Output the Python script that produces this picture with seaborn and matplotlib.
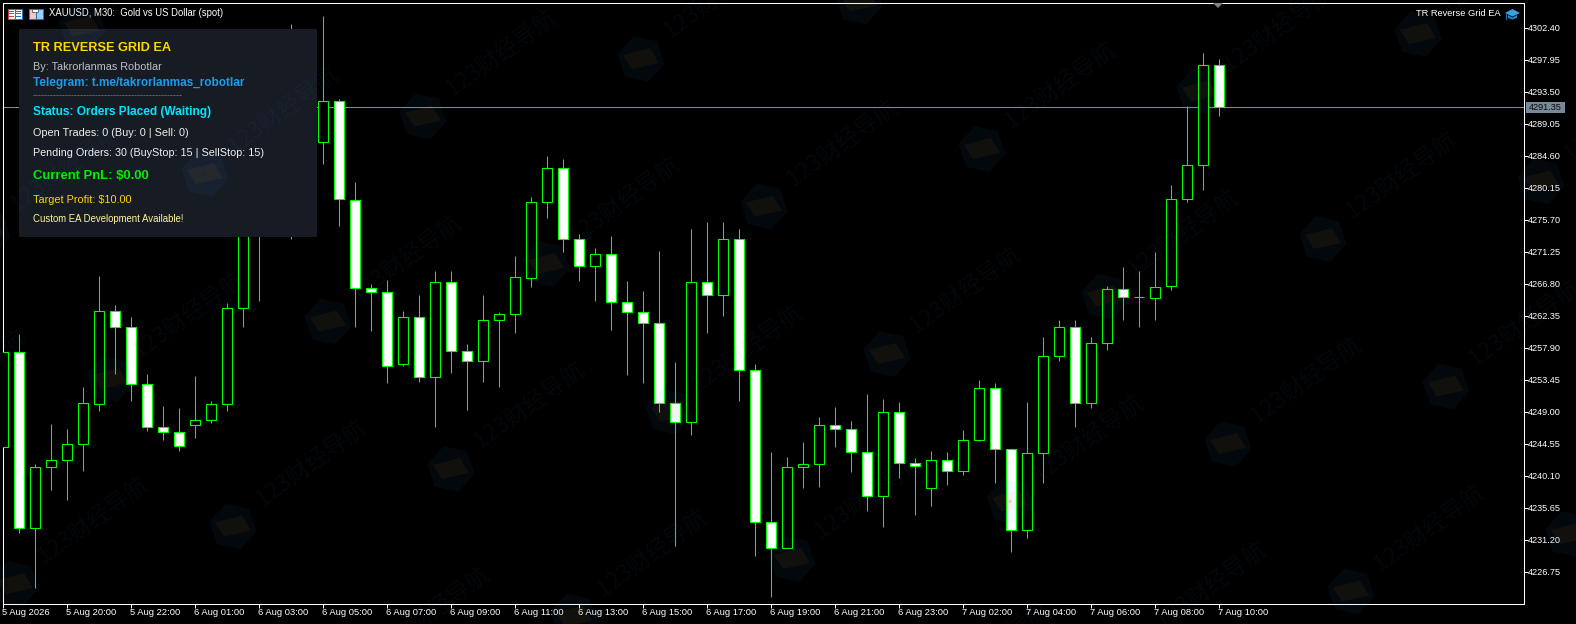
import numpy as np
import pandas as pd
import seaborn as sns
import matplotlib
matplotlib.use("Agg")
import matplotlib.pyplot as plt
from matplotlib.patches import Rectangle, Polygon, Circle
from matplotlib.transforms import Affine2D

# ---------- data (M30 OHLC) ----------
opens = [4244.14,4257.35,4232.87,4241.30,4242.33,4244.55,4250.12,4263.05,4260.83,4252.90,
         4246.92,4246.22,4247.20,4247.89,4250.12,4263.41,4279.78,4288.12,4282.56,4297.86,
         4286.55,4292.25,4278.49,4266.25,4265.69,4255.68,4262.22,4253.87,4267.03,4257.49,
         4256.10,4261.80,4262.63,4267.64,4278.21,4282.94,4273.06,4269.31,4270.98,4264.30,
         4262.91,4261.38,4250.26,4247.61,4267.08,4265.28,4273.06,4254.85,4233.71,4230.09,
         4241.36,4241.77,4247.20,4246.64,4243.44,4237.32,4249.00,4241.91,4238.44,4242.33,
         4240.80,4245.11,4252.34,4243.86,4232.60,4243.30,4256.79,4260.83,4250.26,4258.60,
         4266.11,4264.94,4264.86,4266.53,4278.62,4283.35,4297.26]
highs = [4258.92,4259.75,4241.68,4247.24,4246.54,4252.38,4267.82,4263.79,4262.12,4254.19,
         4249.74,4249.46,4253.91,4250.44,4264.16,4281.86,4290.21,4290.90,4302.86,4299.94,
         4304.11,4292.43,4280.89,4266.80,4267.26,4262.99,4265.18,4268.52,4268.52,4258.36,
         4265.18,4262.81,4270.60,4278.81,4284.51,4284.09,4273.66,4271.71,4273.38,4267.12,
         4265.73,4271.30,4255.86,4274.36,4275.33,4275.33,4274.36,4255.58,4243.35,4242.65,
         4244.74,4248.21,4249.60,4247.66,4251.41,4250.72,4250.30,4242.51,4243.49,4243.35,
         4246.40,4253.36,4252.94,4243.86,4250.30,4259.34,4261.70,4261.70,4259.34,4266.43,
         4269.07,4268.52,4271.16,4280.47,4291.46,4298.83,4298.00]
lows = [4242.93,4232.12,4224.47,4238.06,4236.67,4240.75,4249.09,4254.23,4250.48,4246.31,
        4245.06,4243.53,4245.33,4247.42,4249.09,4260.77,4264.39,4280.47,4273.06,4278.39,
        4283.44,4274.81,4260.77,4260.21,4252.98,4255.35,4253.12,4246.86,4254.37,4249.23,
        4253.12,4252.43,4259.93,4266.33,4275.93,4271.20,4267.17,4264.39,4260.31,4254.09,
        4252.98,4248.95,4230.31,4245.75,4259.93,4262.30,4250.48,4228.92,4223.22,4230.09,
        4238.38,4238.52,4244.04,4240.60,4235.18,4232.96,4239.77,4234.63,4235.88,4238.80,
        4240.19,4244.92,4239.08,4229.48,4231.43,4239.08,4256.04,4246.86,4249.51,4257.53,
        4261.70,4260.73,4261.70,4265.91,4278.15,4279.82,4290.14]
closes = [4257.35,4232.87,4241.36,4242.33,4244.55,4250.26,4263.05,4260.83,4252.90,4246.92,
          4246.22,4244.28,4247.89,4250.12,4263.41,4279.78,4288.12,4282.56,4297.86,4286.55,
          4292.25,4278.62,4266.25,4265.69,4255.40,4262.22,4253.87,4267.03,4257.49,4256.10,
          4261.80,4262.63,4267.78,4278.21,4282.94,4273.06,4269.31,4270.98,4264.30,4262.91,
          4261.38,4250.26,4247.61,4267.08,4265.28,4273.06,4254.85,4233.71,4230.09,4241.36,
          4241.77,4247.20,4246.64,4243.44,4237.32,4249.00,4241.91,4241.50,4242.33,4240.80,
          4245.11,4252.34,4243.86,4232.60,4243.30,4256.79,4260.83,4250.26,4258.60,4266.11,
          4264.94,4264.94,4266.39,4278.62,4283.35,4297.26,4291.35]
bid_price = 4291.35
price_ticks = [4302.40,4297.95,4293.50,4289.05,4284.60,4280.15,4275.70,4271.25,4266.80,
               4262.35,4257.90,4253.45,4249.00,4244.55,4240.10,4235.65,4231.20,4226.75]
time_labels = ["5 Aug 2026","5 Aug 20:00","5 Aug 22:00","6 Aug 01:00","6 Aug 03:00","6 Aug 05:00",
               "6 Aug 07:00","6 Aug 09:00","6 Aug 11:00","6 Aug 13:00","6 Aug 15:00","6 Aug 17:00",
               "6 Aug 19:00","6 Aug 21:00","6 Aug 23:00","7 Aug 02:00","7 Aug 04:00","7 Aug 06:00",
               "7 Aug 08:00","7 Aug 10:00"]
panel_lines = [
    ("TR REVERSE GRID EA", 48.0, "#FFD700", "bold", 9.2),
    ("By: Takrorlanmas Robotlar", 67.3, "#C0C0C0", "normal", 7.8),
    ("Telegram: t.me/takrorlanmas_robotlar", 83.0, "#1E9BE8", "bold", 8.5),
    ("-" * 50, 96.0, "#808080", "normal", 6.5),
    ("Status: Orders Placed (Waiting)", 111.7, "#00E5FF", "bold", 8.6),
    ("Open Trades: 0 (Buy: 0 | Sell: 0)", 133.0, "#F0F0F0", "normal", 7.8),
    ("Pending Orders: 30 (BuyStop: 15 | SellStop: 15)", 153.0, "#F0F0F0", "normal", 7.75),
    ("Current PnL: $0.00", 176.0, "#00F000", "bold", 9.35),
    ("Target Profit: $10.00", 200.0, "#FFD700", "normal", 7.8),
    ("Custom EA Development Available!", 218.7, "#FFF59D", "normal", 6.9),
]
GREEN = "#00FF00"
W, H = 1576, 624

sns.set_theme(style="dark", rc={"figure.facecolor": "black", "axes.facecolor": "black",
                                "savefig.facecolor": "black"})
plt.rcParams["font.family"] = ["Liberation Sans", "DejaVu Sans"]

fig = plt.figure(figsize=(W / 100, H / 100), dpi=100)
AL, AR, AT, AB = 2.5, 1523.5, 2.5, 603.5
ax = fig.add_axes([AL / W, 1 - AB / H, (AR - AL) / W, (AB - AT) / H])

df = pd.DataFrame({"k": np.arange(len(opens)), "o": opens, "h": highs, "l": lows, "c": closes})
df["bottom"] = df[["o", "c"]].min(axis=1)
df["height"] = (df["o"] - df["c"]).abs()

# wicks
wicks = df.melt(id_vars="k", value_vars=["l", "h"], value_name="price")
sns.lineplot(data=wicks, x="k", y="price", units="k", estimator=None, errorbar=None,
             color=GREEN, linewidth=0.75, legend=False, ax=ax, zorder=2, solid_capstyle="butt")

# bodies: hollow for bull, white for bear
for sub, face in ((df[df.c > df.o], "black"), (df[df.c <= df.o], "white")):
    sns.barplot(data=sub, x="k", y="height", bottom=sub["bottom"].to_numpy(), native_scale=True,
                color=face, saturation=1, edgecolor=GREEN, linewidth=0.78, width=0.625,
                errorbar=None, ax=ax, zorder=3)

ax.axhline(bid_price, color="#7F8A96", linewidth=0.75, zorder=1)

px_per_price = 7.191
y0 = 27.8
ax.set_xlim(0, (AR - AL) / 16)
ax.set_ylim(price_ticks[0] - (AB - y0) / px_per_price, price_ticks[0] + (y0 - AT) / px_per_price)

ax.yaxis.tick_right()
ax.set_yticks(price_ticks)
ax.set_yticklabels([f"{p:.2f}" for p in price_ticks], fontsize=6.6, color="white")
ax.set_xticks(np.arange(len(time_labels)) * 4)
ax.set_xticklabels(time_labels, fontsize=6.75, color="white", ha="left")
ax.tick_params(axis="both", length=3, width=0.75, color="white", bottom=True, right=True, left=False)
ax.tick_params(axis="y", pad=0.4)
ax.tick_params(axis="x", pad=0.4)
ax.set_xlabel("")
ax.set_ylabel("")
ax.grid(False)
for s in ax.spines.values():
    s.set_color("white")
    s.set_linewidth(0.75)
    s.set_visible(True)

# pixel transform, y measured from the top of the picture
px = Affine2D().scale(1, -1).translate(0, H)

def rect(x0, y0_, x1, y1, fc, ec="none", lw=0, z=4):
    fig.add_artist(Rectangle((x0, y0_), x1 - x0, y1 - y0_, transform=px, facecolor=fc,
                             edgecolor=ec, linewidth=lw, zorder=z))

def poly(pts, fc, z=4, alpha=None):
    fig.add_artist(Polygon(pts, closed=True, transform=px, facecolor=fc, edgecolor="none",
                           zorder=z, alpha=alpha))

# information panel
rect(19, 29, 317, 237, "#161B24", z=3)
for txt, yc, col, wt, fs in panel_lines:
    fig.text(33, yc, txt, transform=px, color=col, fontweight=wt, fontsize=fs, va="center", ha="left", zorder=4)

# header
fig.text(48.7, 13.5, "XAUUSD, M30:  Gold vs US Dollar (spot)", transform=px, color="white",
         fontsize=6.85, va="center", ha="left", zorder=4)
fig.text(1500, 13.5, "TR Reverse Grid EA", transform=px, color="white", fontsize=6.7,
         va="center", ha="right", zorder=4)

# table icon
rect(7.5, 8.5, 14.5, 18.5, "white", ec="#E03A2E", lw=0.75)
rect(14.5, 8.5, 21.5, 18.5, "white", ec="#1E78C8", lw=0.75)
for yy in (11, 13.5, 16):
    rect(8.5, yy - 0.5, 14, yy + 0.5, "#E03A2E")
    rect(15.5, yy - 0.5, 21, yy + 0.5, "#1E78C8")
# floppy icon
rect(28.5, 8.5, 35.5, 18.5, "#F5C8C0", ec="#E03A2E", lw=0.75)
rect(35.5, 8.5, 42.5, 18.5, "#9CD0F5", ec="#1E78C8", lw=0.75)
rect(32, 8.5, 38, 12, "white", ec="#444444", lw=0.5)
# graduation cap
poly([(1505, 13), (1512.5, 9), (1520, 13), (1512.5, 16.5)], "#3C9FE0")
poly([(1508, 15), (1512.5, 17.5), (1517, 15), (1517, 18), (1512.5, 19.5), (1508, 18)], "#2A7FC0")
rect(1505.5, 13, 1506.5, 19.5, "#1E6FB0")
# position marker at the top
poly([(1213, 3), (1223, 3), (1218, 8)], "#808080", z=2)

# current price tag
rect(1526, 102.3, 1565, 112.7, "#778899")
fig.text(1529, 107.6, f"{bid_price:.2f}", transform=px, color="#0A0A0A", fontsize=6.6,
         va="center", ha="left", zorder=4.5)

# repeating watermark, painted over everything
hex_r = 24.0
base = np.array([546.0, 264.0])
a = np.array([218.0, -57.5])
b = np.array([123.0, 147.5])
angles = np.deg2rad(np.arange(6) * 60 + 12)
wm = "#3F99FF"
for i in range(-6, 9):
    for j in range(-4, 5):
        cx, cy = base + i * a + j * b
        if not (-160 < cx < W + 60 and -60 < cy < H + 120):
            continue
        hexagon = np.c_[cx + hex_r * np.cos(angles), cy + hex_r * np.sin(angles)]
        poly(hexagon, wm, z=6, alpha=0.055)
        poly([(cx - 18, cy - 4), (cx + 9, cy - 11), (cx + 18, cy + 4), (cx - 9, cy + 10)],
             "#FF9A00", z=6.1, alpha=0.06)
        fig.add_artist(Circle((cx, cy), 1.6, transform=px, facecolor="#001030", edgecolor="none",
                              zorder=6.2, alpha=0.15))
        fig.text(cx + 78, cy - 63, "123财经导航", transform=px, color=wm, alpha=0.055, fontsize=16.6,
                 family=["Noto Sans CJK SC", "DejaVu Sans"], rotation=36, rotation_mode="anchor",
                 ha="center", va="center", zorder=6)

fig.savefig("out.png", dpi=100, facecolor="black")
